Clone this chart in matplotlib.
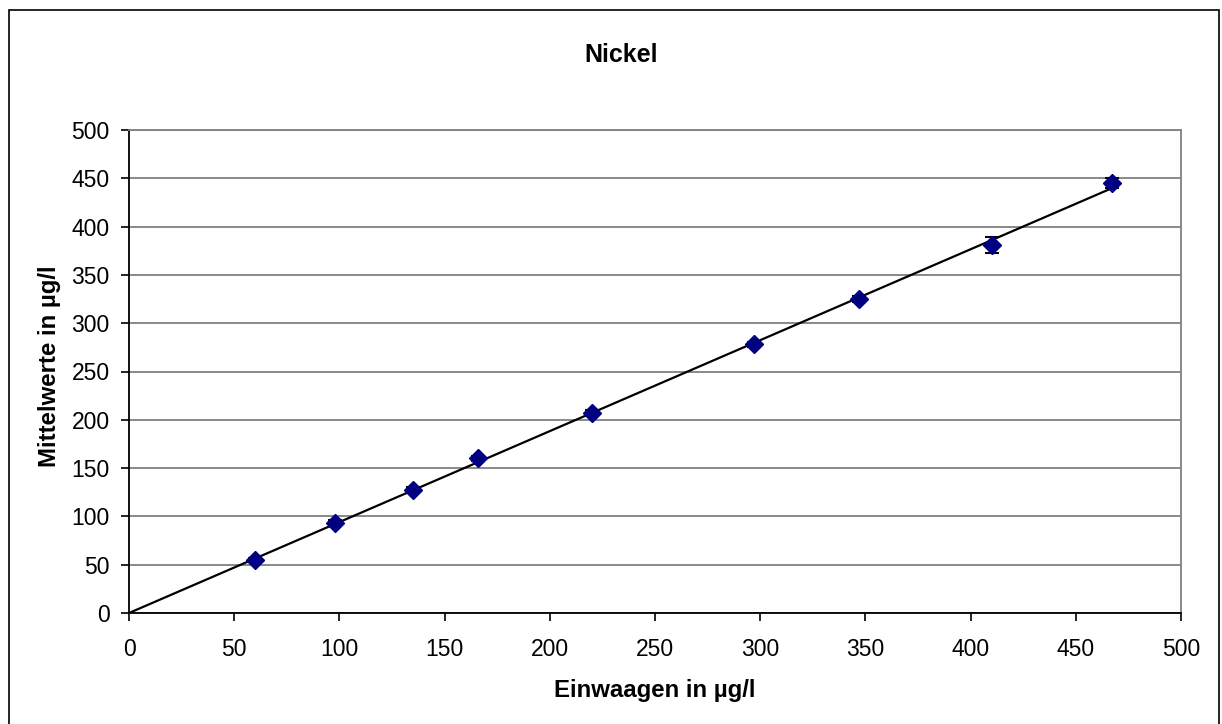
import numpy as np
import matplotlib.pyplot as plt
from matplotlib.patches import Rectangle

plt.rcParams['font.family'] = ['Liberation Sans', 'DejaVu Sans']

# Einwaagen (x) und Mittelwerte (y) in ug/l
einwaagen = [60, 98, 135, 166, 220, 297, 347, 410, 467]
mittelwerte = [55, 93, 127, 160, 207, 278, 325, 381, 445]
fehler = [2, 3, 3, 3, 3, 3, 3, 8, 5]
x_ticks = [0, 50, 100, 150, 200, 250, 300, 350, 400, 450, 500]
y_ticks = [0, 50, 100, 150, 200, 250, 300, 350, 400, 450, 500]

fig = plt.figure(figsize=(12.22, 7.24), dpi=100)
ax = fig.add_axes([129 / 1222, 111 / 724, 1052 / 1222, 483 / 724])

# outer chart border (bottom edge is cut off in the original)
fig.patches.append(Rectangle((9 / 1222, -0.05), 1210 / 1222, 1.05 - 10 / 724,
                             transform=fig.transFigure, fill=False,
                             edgecolor='black', lw=1.2))

# trend line through origin
x = np.array(einwaagen, dtype=float)
y = np.array(mittelwerte, dtype=float)
slope = (x * y).sum() / (x * x).sum()
xl = np.array([0, x.max()])
ax.plot(xl, slope * xl, color='black', lw=1.6, zorder=3)

ax.errorbar(einwaagen, mittelwerte, yerr=fehler, fmt='D', color='#000080',
            markersize=9.5, ecolor='black', elinewidth=1.5, capsize=5,
            capthick=1.5, zorder=4)

ax.set_xlim(0, 500)
ax.set_ylim(0, 500)
ax.set_xticks(x_ticks)
ax.set_yticks(y_ticks)
ax.yaxis.grid(True, color='#808080', lw=1.3)
ax.set_axisbelow(True)

for s in ('top', 'right'):
    ax.spines[s].set_color('#808080')
    ax.spines[s].set_linewidth(1.3)
for s in ('left', 'bottom'):
    ax.spines[s].set_color('black')
    ax.spines[s].set_linewidth(1.3)

ax.tick_params(direction='out', length=6, width=1.2, labelsize=16.5)
ax.tick_params(axis='x', pad=12)
ax.tick_params(axis='y', pad=8)

fig.text(621 / 1222, 1 - 55 / 724, 'Nickel', fontsize=18, fontweight='bold',
         ha='center', va='center')
ax.set_xlabel('Einwaagen in µg/l', fontsize=17.3, fontweight='bold', labelpad=13)
ax.set_ylabel('Mittelwerte in µg/l', fontsize=17.3, fontweight='bold')
ax.yaxis.set_label_coords(-68 / 1052, 0.51)

fig.savefig('out.png', dpi=100)
